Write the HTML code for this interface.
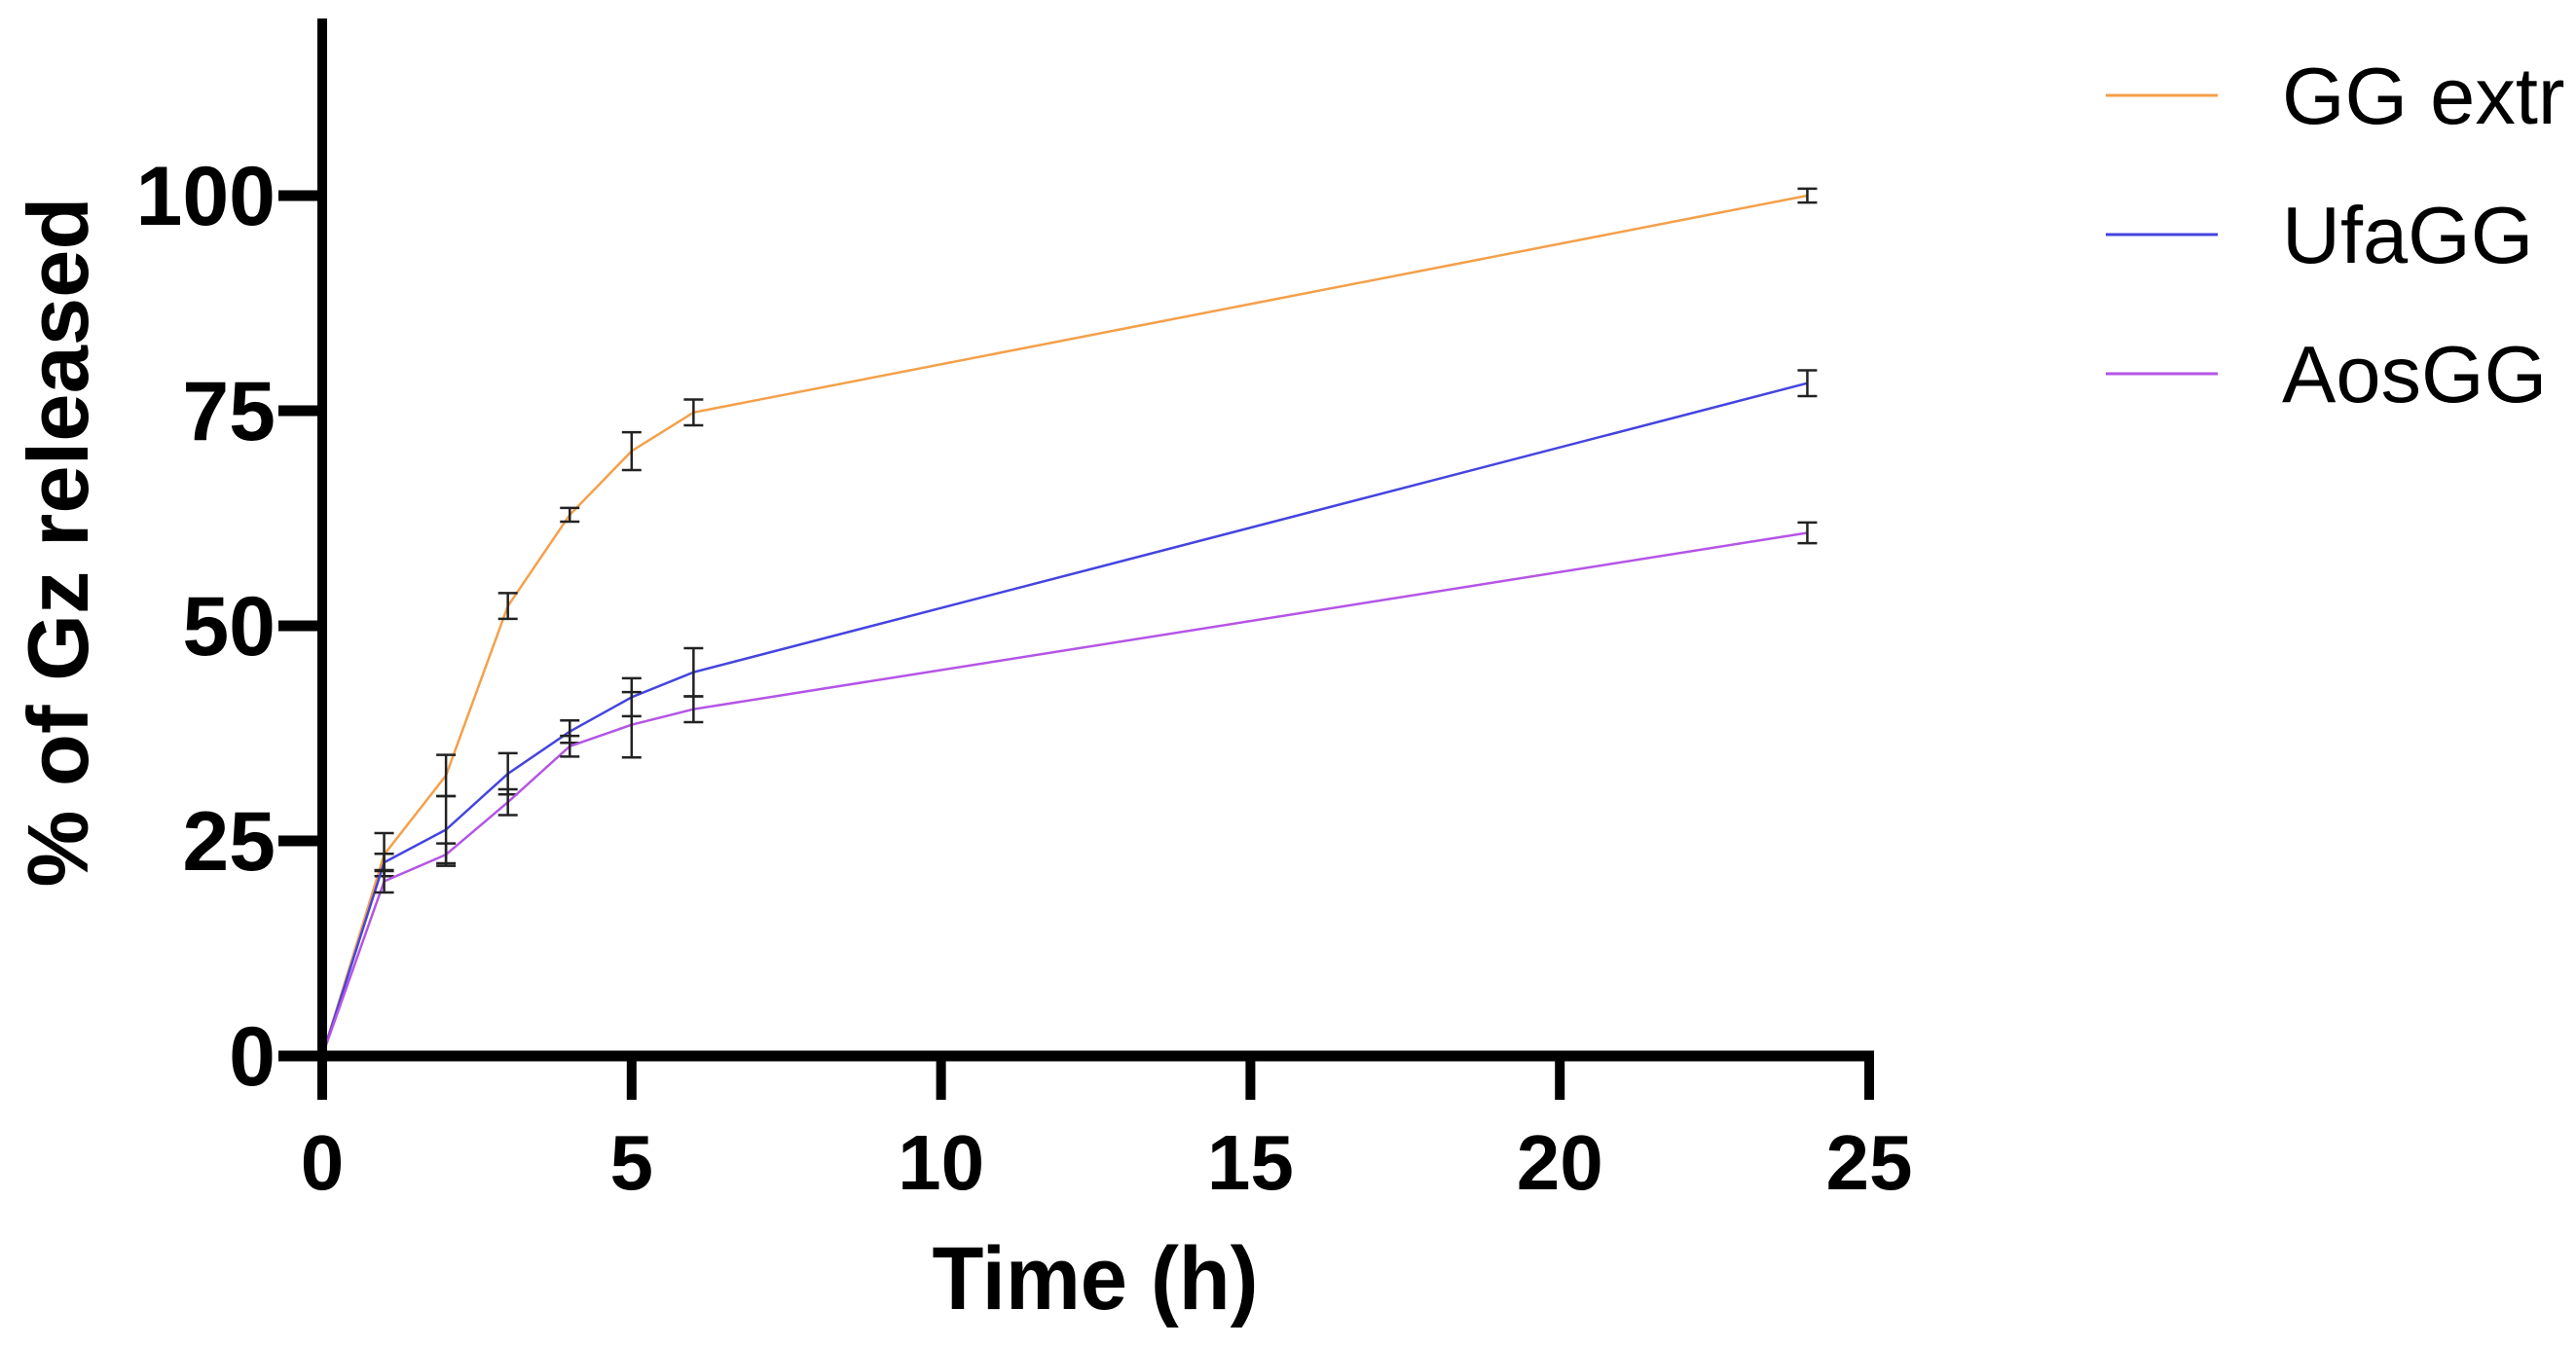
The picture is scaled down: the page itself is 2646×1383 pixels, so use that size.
<!DOCTYPE html>
<html><head><meta charset="utf-8"><style>
html,body{margin:0;padding:0;background:#fff;}
svg{display:block;}
</style></head><body>
<svg id="chart" width="2646" height="1383" viewBox="0 0 2646 1383" xmlns="http://www.w3.org/2000/svg">
<g id="plot"></g>
<g id="axes"></g>
<text x="0" y="0" transform="translate(90,557) rotate(-90)" text-anchor="middle" font-family="Liberation Sans, sans-serif" font-weight="bold" font-size="88" textLength="709" lengthAdjust="spacingAndGlyphs">% of Gz released</text>
<text x="1125" y="1345" text-anchor="middle" font-family="Liberation Sans, sans-serif" font-weight="bold" font-size="92" textLength="335" lengthAdjust="spacingAndGlyphs">Time (h)</text>
<g id="legend"></g>
</svg>
<script>
const times = [0, 1, 2, 3, 4, 5, 6, 24];
const seriesNames = ["GG extr", "UfaGG", "AosGG"];
const ggExtr = [0, 23.4, 32.6, 52.3, 62.9, 70.3, 74.8, 100];
const ggExtrErr = [0, 2.5, 2.4, 1.5, 0.8, 2.2, 1.5, 0.8];
const ufaGG = [0, 22.5, 26.3, 32.8, 37.7, 41.7, 44.6, 78.2];
const ufaGGErr = [0, 1.0, 3.9, 2.4, 1.3, 2.2, 2.8, 1.5];
const aosGG = [0, 20.3, 23.4, 29.5, 36.0, 38.5, 40.3, 60.8];
const aosGGErr = [0, 1.3, 1.3, 1.5, 1.2, 3.8, 1.5, 1.2];
const xTicks = [0, 5, 10, 15, 20, 25];
const yTicks = [0, 25, 50, 75, 100];

const NS = "http://www.w3.org/2000/svg";
const X0 = 331, XPU = 63.56, Y0 = 1085, YPU = 8.84;
function sx(v){ return X0 + v * XPU; }
function sy(v){ return Y0 - v * YPU; }
function mk(tag, attrs, parent){
  const e = document.createElementNS(NS, tag);
  for (const k in attrs) e.setAttribute(k, attrs[k]);
  parent.appendChild(e);
  return e;
}
const plot = document.getElementById('plot');
const axes = document.getElementById('axes');
const legend = document.getElementById('legend');
const colors = ["#F4A04A", "#4444E0", "#B455E6"];
const allVals = [ggExtr, ufaGG, aosGG];
const allErr = [ggExtrErr, ufaGGErr, aosGGErr];

allVals.forEach((vals, si) => {
  const pts = vals.map((v, i) => sx(times[i]).toFixed(1) + "," + sy(v).toFixed(1)).join(" ");
  const pl = mk('polyline', {points: pts, fill: "none", stroke: colors[si], "stroke-width": 2.5}, plot);
  
  
  vals.forEach((v, i) => {
    const e = allErr[si][i];
    if (!e) return;
    const g = mk('g', {stroke: "#222", "stroke-width": 2.5}, plot);
    
    
    const x = sx(times[i]);
    mk('line', {x1: x, x2: x, y1: sy(v + e), y2: sy(v - e)}, g);
    mk('line', {x1: x - 10, x2: x + 10, y1: sy(v + e), y2: sy(v + e)}, g);
    mk('line', {x1: x - 10, x2: x + 10, y1: sy(v - e), y2: sy(v - e)}, g);
  });
});

const ya = mk('line', {x1: X0, x2: X0, y1: 19, y2: Y0 + 6, stroke: "#000", "stroke-width": 10}, axes);


const xa = mk('line', {x1: X0 - 5, x2: sx(25) + 5, y1: Y0, y2: Y0, stroke: "#000", "stroke-width": 11}, axes);


yTicks.forEach(t => {
  const l = mk('line', {x1: X0 - 45, x2: X0, y1: sy(t), y2: sy(t), stroke: "#000", "stroke-width": 11}, axes);
  
  
  const tx = mk('text', {x: X0 - 48, y: sy(t) + 30, "text-anchor": "end", "font-family": "Liberation Sans, sans-serif", "font-weight": "bold", "font-size": 86}, axes);
  tx.textContent = t;
  
  
});
xTicks.forEach(t => {
  const l = mk('line', {x1: sx(t), x2: sx(t), y1: Y0, y2: Y0 + 45, stroke: "#000", "stroke-width": 10}, axes);
  
  
  const tx = mk('text', {x: sx(t), y: Y0 + 137, "text-anchor": "middle", "font-family": "Liberation Sans, sans-serif", "font-weight": "bold", "font-size": 80}, axes);
  tx.textContent = t;
  
  
});

seriesNames.forEach((n, i) => {
  const y = 98 + i * 143;
  const g = mk('g', {}, legend);
  
  
  mk('line', {x1: 2163, x2: 2278, y1: y, y2: y, stroke: colors[i], "stroke-width": 3}, g);
  const tx = mk('text', {x: 2344, y: y + 29, "font-family": "Liberation Sans, sans-serif", "font-size": 83}, g);
  tx.textContent = n;
});
</script>
</body></html>
